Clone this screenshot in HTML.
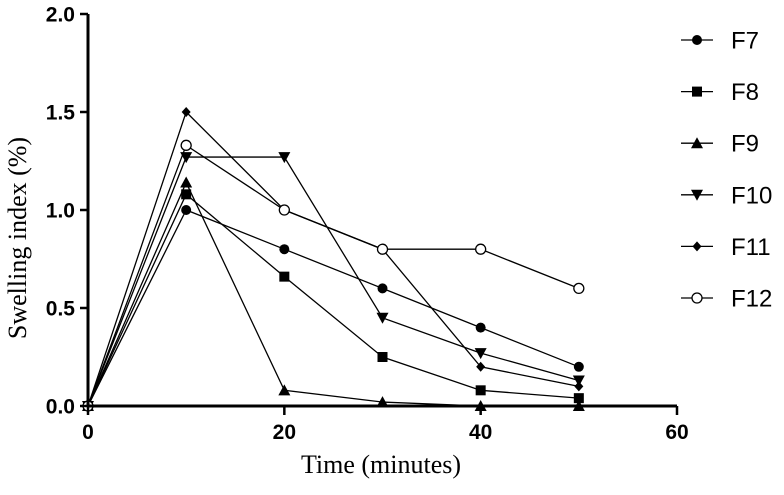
<!DOCTYPE html>
<html><head><meta charset="utf-8"><style>
body{margin:0;background:#fff}
svg text{font-family:"Liberation Sans",Arial,sans-serif}
</style></head><body>
<svg id="chart" width="784" height="490" xmlns="http://www.w3.org/2000/svg"></svg>
<script>
const xValues = [0, 10, 20, 30, 40, 50];
const seriesNames = ["F7", "F8", "F9", "F10", "F11", "F12"];
const F7 = [0, 1.0, 0.8, 0.6, 0.4, 0.2];
const F8 = [0, 1.08, 0.66, 0.25, 0.08, 0.04];
const F9 = [0, 1.14, 0.08, 0.02, 0, 0];
const F10 = [0, 1.27, 1.27, 0.45, 0.27, 0.13];
const F11 = [0, 1.5, 1.0, 0.8, 0.2, 0.1];
const F12 = [0, 1.33, 1.0, 0.8, 0.8, 0.6];
const xTicks = [0, 20, 40, 60];
const yTicks = [0, 0.5, 1.0, 1.5, 2.0];
const yTickLabels = ["0.0", "0.5", "1.0", "1.5", "2.0"];

const series = [F7, F8, F9, F10, F11, F12];
const markers = ["circle", "square", "triUp", "triDown", "diamond", "openCircle"];
const svg = document.getElementById('chart');
const NS = "http://www.w3.org/2000/svg";
const X0 = 88, X1 = 677, Y0 = 406, Y1 = 14;
const xs = v => X0 + (v - 0) / 60 * (X1 - X0);
const ys = v => Y0 - v / 2 * (Y0 - Y1);
function mk(tag, attrs, parent) {
  const e = document.createElementNS(NS, tag);
  for (const k in attrs) e.setAttribute(k, attrs[k]);
  (parent || svg).appendChild(e);
  return e;
}
function marker(type, cx, cy, g) {
  let e;
  if (type === "circle") e = mk('circle', {cx, cy, r: 5, fill: '#000'}, g);
  else if (type === "openCircle") e = mk('circle', {cx, cy, r: 5, fill: '#fff', stroke: '#000', 'stroke-width': 1.3}, g);
  else if (type === "square") e = mk('rect', {x: cx - 5, y: cy - 5, width: 10, height: 10, fill: '#000'}, g);
  else if (type === "triUp") e = mk('polygon', {points: `${cx},${cy-6} ${cx+6},${cy+5} ${cx-6},${cy+5}`, fill: '#000'}, g);
  else if (type === "triDown") e = mk('polygon', {points: `${cx},${cy+6} ${cx+6},${cy-5} ${cx-6},${cy-5}`, fill: '#000'}, g);
  else e = mk('polygon', {points: `${cx},${cy-5} ${cx+4.5},${cy} ${cx},${cy+5} ${cx-4.5},${cy}`, fill: '#000'}, g);
  return e;
}
series.forEach((vals, si) => {
  const g = mk('g', {});
  
  
  const pts = vals.map((v, i) => xs(xValues[i]) + ',' + ys(v)).join(' ');
  const pl = mk('polyline', {points: pts, fill: 'none', stroke: '#000', 'stroke-width': 1.3}, g);
  
  
  vals.forEach((v, i) => {
    const m = marker(markers[si], xs(xValues[i]), ys(v), g);
    
    
  });
});
const ax = mk('g', {});


mk('line', {x1: X0, y1: Y1, x2: X0, y2: Y0, stroke: '#000', 'stroke-width': 3}, ax);
mk('line', {x1: X0, y1: Y0, x2: X1, y2: Y0, stroke: '#000', 'stroke-width': 3}, ax);
yTicks.forEach((t, i) => {
  mk('line', {x1: X0 - 8, y1: ys(t), x2: X0, y2: ys(t), stroke: '#000', 'stroke-width': 2.5}, ax);
  const tx = mk('text', {x: X0 - 13, y: ys(t) + 7.5, 'text-anchor': 'end', 'font-size': 21, 'font-weight': 'bold'}, ax);
  tx.textContent = yTickLabels[i];
  
  
});
xTicks.forEach(t => {
  mk('line', {x1: xs(t), y1: Y0, x2: xs(t), y2: Y0 + 9, stroke: '#000', 'stroke-width': 2.5}, ax);
  const tx = mk('text', {x: xs(t), y: Y0 + 33, 'text-anchor': 'middle', 'font-size': 21, 'font-weight': 'bold'}, ax);
  tx.textContent = t;
  
  
});
seriesNames.forEach((n, i) => {
  const y = 40 + i * 51.6;
  const g = mk('g', {});
  
  
  mk('line', {x1: 681, y1: y, x2: 713, y2: y, stroke: '#000', 'stroke-width': 1.3}, g);
  marker(markers[i], 697, y, g);
  const t = mk('text', {x: 731, y: y + 8.5, 'font-size': 24}, g);
  t.textContent = n;
});
</script>
<div style="position:absolute;left:0;top:0;width:784px;height:490px;pointer-events:none">
<div style="position:absolute;left:221px;top:450px;width:320px;text-align:center;font:26px 'Liberation Serif',serif;line-height:30px">Time (minutes)</div>
<div style="position:absolute;left:-142px;top:223px;width:320px;text-align:center;font:26px 'Liberation Serif',serif;line-height:30px;transform:rotate(-90deg)">Swelling index (%)</div>
</div>
</body></html>
